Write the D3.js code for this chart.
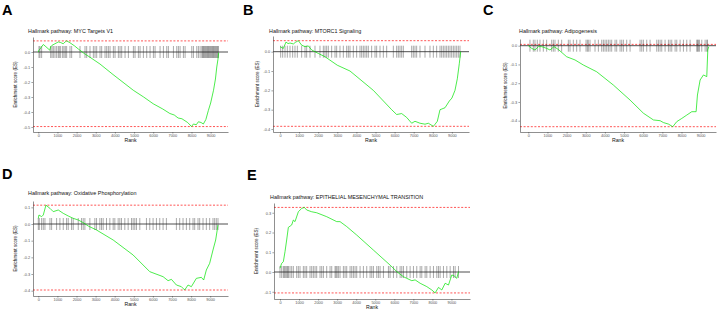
<!DOCTYPE html>
<html>
<head>
<meta charset="utf-8">
<script src="https://cdnjs.cloudflare.com/ajax/libs/d3/7.8.5/d3.min.js"></script>
<style>
  body { margin: 0; background: #fff; }
  svg text { font-family: "Liberation Sans", Arial, sans-serif; }
</style>
</head>
<body>
<div class="board"></div>
<script>
/*
=================================
DATA
=================================
*/
var panelLetters = ['A', 'B', 'C', 'D', 'E'];

var panelTitles = [
  'Hallmark pathway: MYC Targets V1',
  'Hallmark pathway: MTORC1 Signaling',
  'Hallmark pathway: Adipogenesis',
  'Hallmark pathway: Oxidative Phosphorylation',
  'Hallmark pathway: EPITHELIAL MESENCHYMAL TRANSITION'
];

var rankTicks = [0, 1000, 2000, 3000, 4000, 5000, 6000, 7000, 8000, 9000];

var esTicksA = [0, -0.1, -0.2, -0.3, -0.4, -0.5];
var esTicksB = [0, -0.1, -0.2, -0.3, -0.4];
var esTicksC = [0, -0.1, -0.2, -0.3, -0.4];
var esTicksD = [0.1, 0, -0.1, -0.2, -0.3, -0.4];
var esTicksE = [0.3, 0.2, 0.1, 0, -0.1];

// max / min enrichment score of each pathway (dashed lines)
var esMax = [0.074, 0.057, 0.007, 0.113, 0.327];
var esMin = [-0.497, -0.386, -0.432, -0.396, -0.106];

// running enrichment score, MYC Targets V1
var mycRank = [0, 35, 90, 174, 260, 400, 600, 645, 720, 870, 1045, 1170, 1300, 1410, 1480, 1650, 1900,
  2090, 2400, 2700, 3220, 3900, 4960, 5500, 6000, 6500, 6870, 7100, 7300, 7500, 7800, 8000, 8100, 8250,
  8360, 8500, 8620, 8750, 8880, 9000, 9150, 9250, 9320, 9380, 9420];
var mycES = [0, 0.012, 0.02, 0.035, 0.05, 0.035, 0.012, 0.035, 0.045, 0.055, 0.067, 0.063, 0.055, 0.068,
  0.074, 0.062, 0.04, 0.02, -0.01, -0.035, -0.08, -0.15, -0.255, -0.3, -0.345, -0.38, -0.41, -0.42, -0.44,
  -0.445, -0.47, -0.497, -0.48, -0.485, -0.465, -0.47, -0.48, -0.45, -0.39, -0.34, -0.255, -0.18, -0.1,
  -0.05, -0.005];

// running enrichment score, MTORC1 Signaling
var mtorcRank = [0, 175, 314, 420, 524, 698, 800, 960, 1134, 1309, 1483, 1658, 2007, 2356, 3000, 3665,
  4887, 5846, 6108, 6370, 6632, 6894, 7068, 7330, 7592, 7766, 8028, 8120, 8237, 8377, 8639, 8866, 9000,
  9162, 9284, 9389, 9459];
var mtorcES = [0.026, 0.017, 0.05, 0.042, 0.045, 0.04, 0.048, 0.057, 0.034, 0.026, 0.03, 0.009, -0.009,
  -0.026, -0.07, -0.1, -0.2, -0.3, -0.325, -0.32, -0.34, -0.37, -0.36, -0.37, -0.375, -0.37, -0.386, -0.375,
  -0.36, -0.3, -0.29, -0.255, -0.24, -0.2, -0.14, -0.06, 0];

// running enrichment score, Adipogenesis
var adipoRank = [0, 174, 348, 523, 697, 958, 1132, 1341, 1568, 2003, 2439, 2875, 3571, 4443, 5314, 6010,
  6533, 6882, 7056, 7317, 7544, 7753, 8014, 8275, 8537, 8763, 8833, 8972, 9146, 9320, 9373, 9425];
var adipoES = [0, -0.014, -0.023, -0.005, -0.005, -0.014, -0.023, -0.005, -0.02, -0.059, -0.076, -0.103,
  -0.139, -0.21, -0.29, -0.36, -0.396, -0.4, -0.41, -0.418, -0.432, -0.405, -0.388, -0.37, -0.352, -0.352,
  -0.263, -0.183, -0.156, -0.165, -0.023, -0.005];

// running enrichment score, Oxidative Phosphorylation
var oxphosRank = [0, 35, 174, 261, 400, 610, 784, 1045, 1307, 1568, 1829, 2091, 2352, 2613, 3049, 3920,
  4965, 5836, 6533, 6794, 6969, 7230, 7491, 7665, 7840, 8014, 8275, 8537, 8659, 8798, 8972, 9146, 9286,
  9408];
var oxphosES = [0.034, 0.054, 0.044, 0.054, 0.113, 0.094, 0.074, 0.084, 0.064, 0.048, 0.034, 0.024, 0.008,
  -0.012, -0.036, -0.096, -0.186, -0.286, -0.316, -0.34, -0.332, -0.366, -0.376, -0.396, -0.366, -0.376,
  -0.326, -0.32, -0.336, -0.276, -0.236, -0.156, -0.096, -0.006];

// running enrichment score, EMT
var emtRank = [0, 88, 175, 263, 350, 438, 613, 700, 788, 963, 1138, 1278, 1401, 1664, 1926, 2452, 2977,
  3152, 3503, 4028, 4904, 5779, 6130, 6480, 6655, 6918, 7093, 7356, 7706, 7968, 8144, 8319, 8494, 8669,
  8844, 9019, 9142, 9282, 9370];
var emtES = [0.019, 0.044, 0.052, 0.103, 0.162, 0.226, 0.238, 0.263, 0.255, 0.305, 0.322, 0.327, 0.314,
  0.305, 0.3, 0.28, 0.255, 0.255, 0.23, 0.187, 0.111, 0.035, 0.002, -0.024, -0.032, -0.044, -0.04, -0.057,
  -0.074, -0.091, -0.106, -0.078, -0.091, -0.057, -0.066, -0.015, -0.02, -0.032, 0.002];

// ranks of pathway genes (hit marks)
var mycHits = [35, 87, 174, 645, 714, 784, 871, 958, 1045, 1098, 1167, 1272, 1341, 1411, 1481, 1655, 1742,
  2178, 2439, 2526, 2700, 2875, 2962, 3049, 3223, 3310, 3484, 3571, 3659, 3746, 3920, 4007, 4181, 4268,
  4355, 4530, 4704, 4965, 5052, 5226, 5314, 5488, 5662, 5836, 6010, 6098, 6359, 6533, 6707, 6794, 7056,
  7230, 7317, 7404, 7578, 7666, 8014, 8101, 8275, 8362, 8449, 8537, 8580, 8624, 8667, 8711, 8754, 8798,
  8841, 8885, 8928, 8972, 9015, 9059, 9102, 9146, 9189, 9233, 9276, 9320, 9363, 9407];
var mtorcHits = [35, 140, 262, 384, 524, 663, 785, 908, 1134, 1309, 1396, 1571, 1832, 2094, 2269, 2356,
  2443, 2531, 2705, 2880, 2967, 3141, 3316, 3490, 3578, 3665, 3839, 4014, 4188, 4276, 4363, 4450, 4538,
  4625, 4799, 4974, 5061, 5236, 5410, 5585, 5934, 6108, 6195, 6283, 6370, 6457, 6894, 6981, 7068, 7155,
  7330, 7592, 7853, 8028, 8202, 8377, 8464, 8551, 8639, 8726, 8813, 8901, 8988, 9075, 9162, 9250, 9337,
  9424];
var adipoHits = [87, 261, 348, 470, 610, 784, 958, 1220, 1307, 1394, 1568, 1742, 2091, 2178, 2352, 2526,
  2700, 3014, 3084, 3136, 3223, 3484, 3659, 3833, 3920, 4007, 4094, 4181, 4268, 4355, 4530, 4617, 4791,
  4878, 4965, 5139, 5314, 5836, 5923, 6010, 6185, 6359, 6707, 6794, 6882, 6969, 7143, 7317, 7404, 7491,
  7666, 7753, 7927, 8101, 8275, 8449, 8798, 8833, 8885, 8937, 9059, 9233, 9320, 9355];
var oxphosHits = [0, 52, 174, 261, 348, 610, 697, 958, 1132, 1307, 1481, 1568, 1742, 1829, 2091, 2265,
  2352, 2439, 2700, 2962, 3049, 3223, 3310, 3397, 3571, 3746, 3920, 4007, 4181, 4268, 4355, 4530, 4704,
  4878, 4965, 5052, 5139, 5314, 5662, 5836, 6010, 6185, 6359, 6533, 6707, 7230, 7404, 7578, 7753, 7927,
  8101, 8188, 8362, 8449, 8624, 8798, 8972, 9146, 9233, 9320, 9408];
var emtHits = [0, 88, 175, 228, 280, 350, 403, 438, 525, 613, 700, 876, 963, 1051, 1226, 1313, 1401, 1576,
  1664, 1751, 1839, 1926, 2102, 2189, 2277, 2452, 2627, 2715, 2890, 2942, 2995, 3065, 3152, 3327, 3415,
  3503, 3678, 3765, 3853, 3940, 4028, 4203, 4378, 4553, 4729, 4816, 4904, 5079, 5166, 5254, 5429, 5692,
  5779, 5954, 6130, 6305, 6392, 6480, 6655, 6830, 7005, 7180, 7356, 7443, 7618, 7706, 7881, 8056, 8231,
  8319, 8406, 8581, 8757, 8932, 9107, 9194, 9370];


/*
=================================
LAYOUT (pixel positions of each panel)
=================================
*/
// left/right/top/bottom : plot frame
// x0 : pixel of rank 0, xk : pixels per 1000 ranks
// y0 : pixel of ES 0,   yk : pixels per 0.1 ES
var layout = [
  {left: 33,  right: 228, top: 37,  bottom: 132, x0: 38.3,  xk: 19.15, y0: 52,    yk: 15,    tx: 28,  ty: 33,  lx: 2,   ly: 15,  yl: 15},
  {left: 273, right: 469, top: 36,  bottom: 132, x0: 280,   xk: 19.1,  y0: 51.7,  yk: 19.33, tx: 269, ty: 33,  lx: 243, ly: 15,  yl: 257},
  {left: 520, right: 716, top: 39,  bottom: 132, x0: 528.3, xk: 19.15, y0: 45.7,  yk: 18.75, tx: 519, ty: 33,  lx: 483, ly: 15,  yl: 505},
  {left: 33,  right: 228, top: 201, bottom: 296, x0: 38.3,  xk: 19.1,  y0: 224,   yk: 16.67, tx: 28,  ty: 195, lx: 2,   ly: 179, yl: 15},
  {left: 274, right: 470, top: 203, bottom: 299, x0: 280,   xk: 19.05, y0: 272,   yk: 19.75, tx: 270, ty: 199, lx: 247, ly: 180, yl: 256}
];

var panels = [
  {rank: mycRank,    es: mycES,    hits: mycHits,    ticks: esTicksA},
  {rank: mtorcRank,  es: mtorcES,  hits: mtorcHits,  ticks: esTicksB},
  {rank: adipoRank,  es: adipoES,  hits: adipoHits,  ticks: esTicksC},
  {rank: oxphosRank, es: oxphosES, hits: oxphosHits, ticks: esTicksD},
  {rank: emtRank,    es: emtES,    hits: emtHits,    ticks: esTicksE}
];


/*
=================================
CREATE BACKGROUND CONTAINER
=================================
*/
var svg = d3.select('.board').append('svg')
  .attr('width', 720)
  .attr('height', 311)
  .style('display', 'block')
  .style('background', '#ffffff');

var locale = d3.formatLocale({decimal: '.', thousands: '', grouping: [3], currency: ['', ''], minus: '-'});
var fmtES = locale.format('.1f');

var lineColor = '#00e400';


/*
=================================
DRAW ONE PANEL
=================================
*/
var drawPanel = function(i) {
  var L = layout[i];
  var P = panels[i];

  var calX = d3.scaleLinear().domain([0, 1000]).range([L.x0, L.x0 + L.xk]);
  var calY = d3.scaleLinear().domain([0, 0.1]).range([L.y0, L.y0 - L.yk]);

  var x = d3.scaleLinear()
    .domain([calX.invert(L.left), calX.invert(L.right)])
    .range([L.left, L.right]);
  var y = d3.scaleLinear()
    .domain([calY.invert(L.bottom), calY.invert(L.top)])
    .range([L.bottom, L.top]);

  var g = svg.append('g');

  // letter + title
  g.append('text')
    .attr('x', L.lx).attr('y', L.ly)
    .attr('font-size', 14.5).attr('font-weight', 'bold')
    .attr('fill', '#000')
    .text(panelLetters[i]);

  g.append('text')
    .attr('x', L.tx).attr('y', L.ty)
    .attr('font-size', 5.4)
    .attr('fill', '#111')
    .text(panelTitles[i]);

  // dashed max / min lines
  g.selectAll('line.dash')
    .data([esMax[i], esMin[i]])
    .enter().append('line')
    .attr('class', 'dash')
    .attr('x1', L.left).attr('x2', L.right)
    .attr('y1', d => y(d)).attr('y2', d => y(d))
    .attr('stroke', '#ff2a2a')
    .attr('stroke-width', 0.8)
    .attr('stroke-dasharray', '2,1.6');

  // hits
  g.selectAll('line.hit')
    .data(P.hits)
    .enter().append('line')
    .attr('class', 'hit')
    .attr('x1', d => x(d)).attr('x2', d => x(d))
    .attr('y1', y(0) - 6).attr('y2', y(0) + 6)
    .attr('stroke', '#000')
    .attr('stroke-opacity', 0.45)
    .attr('stroke-width', 0.75);

  // zero line
  g.append('line')
    .attr('x1', L.left).attr('x2', L.right)
    .attr('y1', y(0)).attr('y2', y(0))
    .attr('stroke', '#222')
    .attr('stroke-width', 0.8);

  // running ES
  var pts = P.rank.map((r, k) => [r, P.es[k]]);
  g.append('path')
    .datum(pts)
    .attr('d', d3.line().x(d => x(d[0])).y(d => y(d[1])))
    .attr('fill', 'none')
    .attr('stroke', lineColor)
    .attr('stroke-width', 0.7);

  // axes
  var xAxis = g.append('g')
    .attr('transform', 'translate(0,' + L.bottom + ')')
    .call(d3.axisBottom(x).tickValues(rankTicks).tickSize(1.6).tickSizeOuter(0).tickPadding(0.8).tickFormat(d3.format('d')));
  var yAxis = g.append('g')
    .attr('transform', 'translate(' + L.left + ',0)')
    .call(d3.axisLeft(y).tickValues(P.ticks).tickSize(1.6).tickSizeOuter(0).tickPadding(1.2).tickFormat(fmtES));

  [xAxis, yAxis].forEach(function(a) {
    a.select('.domain').attr('stroke', '#444').attr('stroke-width', 0.6);
    a.selectAll('.tick line').attr('stroke', '#444').attr('stroke-width', 0.5);
    a.selectAll('.tick text').attr('fill', '#555').attr('font-size', 3.9)
      .attr('font-family', '"Liberation Sans", Arial, sans-serif');
  });

  // axis titles
  g.append('text')
    .attr('x', (L.left + L.right) / 2).attr('y', L.bottom + 10)
    .attr('text-anchor', 'middle')
    .attr('font-size', 5.2).attr('fill', '#111')
    .text('Rank');

  g.append('text')
    .attr('transform', 'translate(' + L.yl + ',' + ((L.top + L.bottom) / 2) + ') rotate(-90)')
    .attr('text-anchor', 'middle')
    .attr('dy', '0.35em')
    .attr('font-size', 4.6).attr('fill', '#111')
    .text('Enrichment score (ES)');
};

for (var i = 0; i < panels.length; i++) {
  drawPanel(i);
}
</script>
</body>
</html>
